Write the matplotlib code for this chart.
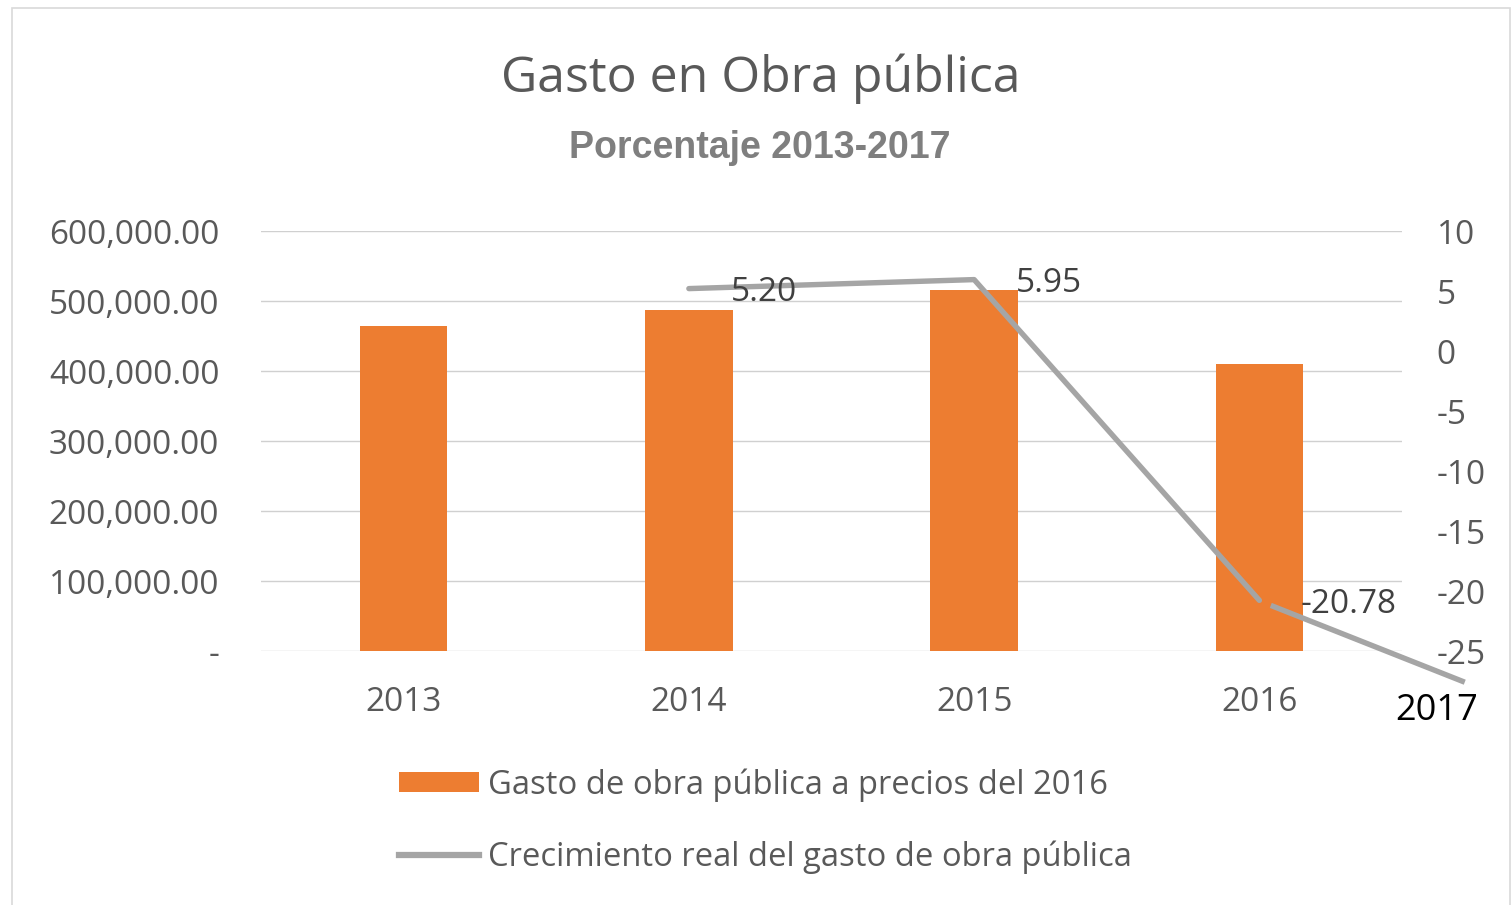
import matplotlib
matplotlib.use("Agg")
import matplotlib.pyplot as plt
from matplotlib.patches import Patch, Rectangle
from matplotlib.lines import Line2D

# ---- data ----
years = ["2013", "2014", "2015", "2016"]
gasto = [463700, 487700, 516400, 409800]          # Gasto de obra pública a precios del 2016
crec_years = [1, 2, 3]                             # category index of 2014, 2015, 2016
crecimiento = [5.20, 5.95, -20.78]                 # Crecimiento real (%)
crec_labels = ["5.20", "5.95", "-20.78"]
# hand-drawn extension toward 2017 (annotation)
ext_x = [3.04, 3.72]
ext_y = [-21.2, -27.6]

left_ticks = [0, 100000, 200000, 300000, 400000, 500000, 600000]
left_ticklabels = ["-", "100,000.00", "200,000.00", "300,000.00", "400,000.00", "500,000.00", "600,000.00"]
right_ticks = [-25, -20, -15, -10, -5, 0, 5, 10]

ORANGE = "#ED7D31"
GRAY = "#A5A5A5"
TXT = "#595959"
FONT = ["Open Sans", "DejaVu Sans"]

plt.rcParams["font.family"] = FONT

W, H = 1511, 905
fig = plt.figure(figsize=(W / 100, H / 100), dpi=100)
ax = fig.add_axes([261 / W, 1 - 651 / H, (1402 - 261) / W, (651 - 231) / H])
ax2 = ax.twinx()

x = list(range(len(years)))
ax.bar(x, gasto, width=0.306, color=ORANGE, zorder=2)
ax.set_xlim(-0.5, 3.5)
ax.set_ylim(0, 600000)
ax.set_yticks(left_ticks)
ax.set_yticklabels(left_ticklabels)
ax.set_xticks(x)
ax.set_xticklabels(years)
for yv in left_ticks:
    ax.axhline(yv, color="#D0D0D0", lw=1.0, zorder=1)
for s in ax.spines.values():
    s.set_visible(False)
for s in ax2.spines.values():
    s.set_visible(False)
ax.tick_params(axis="both", length=0, labelsize=24, labelcolor=TXT)
ax.tick_params(axis="y", pad=30)
ax.tick_params(axis="x", pad=25)

ax2.set_ylim(-25, 10)
ax2.set_yticks(right_ticks)
ax2.set_yticklabels([str(v) for v in right_ticks])
ax2.tick_params(axis="y", length=0, labelsize=24, labelcolor=TXT, pad=25)

ax2.plot(crec_years, crecimiento, color=GRAY, lw=3.9, solid_capstyle="round", zorder=3)
ax2.plot(ext_x, ext_y, color=GRAY, lw=3.9, solid_capstyle="butt", clip_on=False, zorder=3)
for xi, yi, lab in zip(crec_years, crecimiento, crec_labels):
    ax2.annotate(lab, (xi, yi), xytext=(30, -3), textcoords="offset points",
                 ha="left", va="center", fontsize=24, color="#404040")
ax2.text(3.62, -30.0, "2017", fontsize=26, color="black", ha="center", va="center", clip_on=False)

# titles
fig.text(761 / W, 1 - 79 / H, "Gasto en Obra pública", fontsize=36, color=TXT, ha="center", va="center")
fig.text(760 / W, 1 - 148 / H, "Porcentaje 2013-2017", fontsize=27, color="#7F7F7F",
         fontweight="bold", family="Liberation Sans", ha="center", va="center")

# legend
handles = [Patch(facecolor=ORANGE, edgecolor="none"),
           Line2D([0], [0], color=GRAY, lw=4.5)]
labels = ["Gasto de obra pública a precios del 2016", "Crecimiento real del gasto de obra pública"]
leg = fig.legend(handles, labels, loc="upper left", bbox_to_anchor=(399 / W, 1 - 768 / H),
                 frameon=False, fontsize=23.6, labelcolor=TXT, handlelength=2.45,
                 handleheight=0.6, handletextpad=0.25, labelspacing=1.2, borderpad=0, borderaxespad=0)

# chart border
fig.patches.append(Rectangle((12 / W, -0.05), (1510 - 12) / W, 1.05 - 8 / H,
                             transform=fig.transFigure, fill=False, edgecolor="#D9D9D9", lw=1.2))

fig.savefig("out.png", dpi=100)
